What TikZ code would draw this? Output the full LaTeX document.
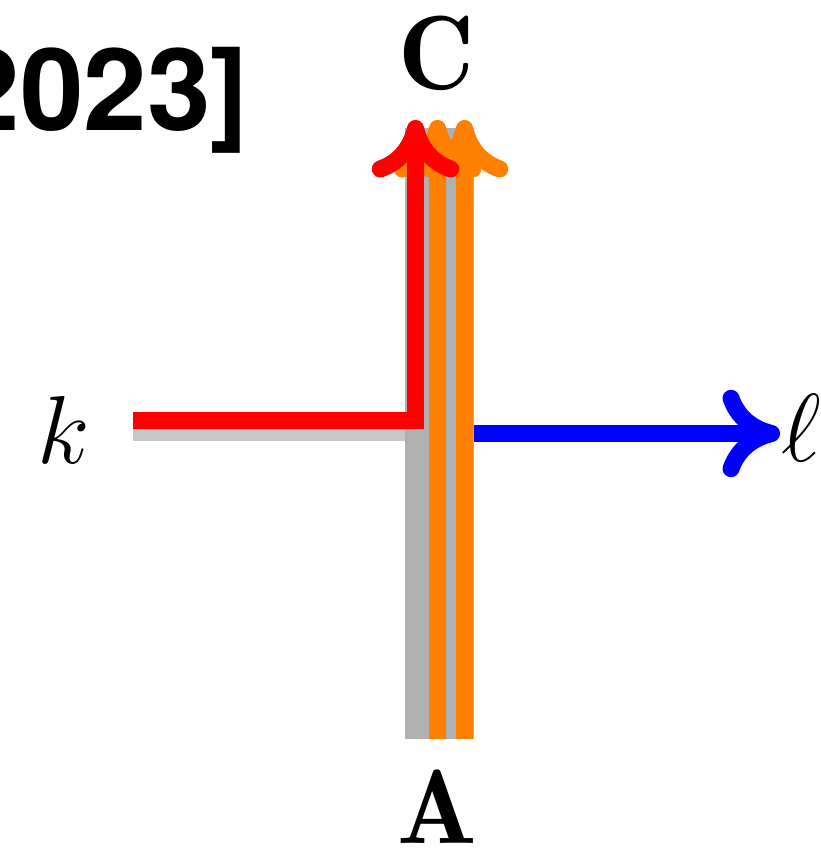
\documentclass[tikz,border=0pt]{standalone}
\usepackage{fix-cm}
\usepackage{fontspec}
\newfontfamily\heros{TeX Gyre Heros}
\usetikzlibrary{arrows.meta}

\begin{document}
\begin{tikzpicture}[
    x=0.02cm, y=-0.02cm,
    every node/.style={font=\fontsize{55}{60}\selectfont, inner sep=0pt},
    strand/.style={line width=0.34cm},
    tip/.style={-{To[length=1.15cm, width=1.75cm]}},
    band/.style={fill=black!31},
    shade/.style={fill=black!22}
]
\useasboundingbox (0,0) rectangle (821,852);

% popisky
\node[anchor=base east, font=\fontsize{65}{70}\heros\bfseries] (cite) at (249,130) {2023]};
\node[anchor=base, font=\fontsize{60}{64}\selectfont] (C) at (437,89) {$\mathbf{C}$};
\node[anchor=base, font=\fontsize{60}{64}\selectfont] (A) at (437,843) {$\mathbf{A}$};
\node[anchor=base] (k) at (64,463) {$k$};
\node[anchor=base west] (l) at (781,461) {$\ell$};

% konce cest
\coordinate (kin) at (133,420.5);
\coordinate (bend) at (415.5,420.5);
\coordinate (rtop) at (415.5,120);
\coordinate (a1) at (437.5,739);
\coordinate (c1) at (437.5,120);
\coordinate (a2) at (464.5,739);
\coordinate (c2) at (464.5,120);
\coordinate (lin) at (474,433.5);
\coordinate (lend) at (780,433.5);

% sede pasy
\fill[shade] (133,412) rectangle (405,441);
\fill[band] (405,128) rectangle (474,739);

% cesty
\draw[strand, orange, tip] (a1) -- (c1);
\draw[strand, orange, tip] (a2) -- (c2);
\draw[strand, red, tip] (kin) -- (bend) -- (rtop);
\draw[strand, blue, tip] (lin) -- (lend);

\end{tikzpicture}
\end{document}
